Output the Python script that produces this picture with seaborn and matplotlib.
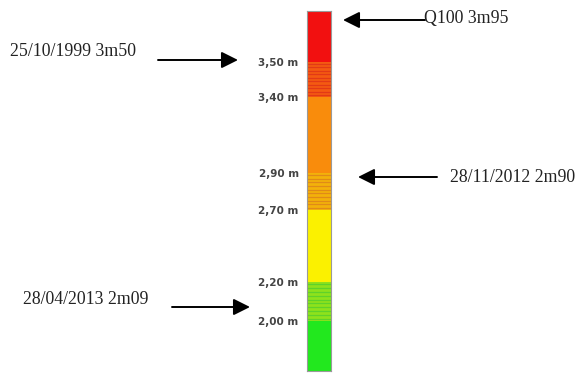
import numpy as np
import matplotlib
matplotlib.use("Agg")
import matplotlib.pyplot as plt
import seaborn as sns

# ---- data (schematic gauge, segments listed from bottom to top) ----
segment_names = ["vert", "vert/jaune", "jaune", "jaune/orange", "orange", "orange/rouge", "rouge"]
segment_heights = [50, 39, 72, 37, 76, 35, 51]
segment_colors = ["#22e81e", "#8ee21c", "#fbf100", "#f3b10a", "#f98c0c", "#f45a12", "#f21010"]
stripe_colors = [None, "#5fd22a", None, "#e08a18", None, "#e23a16", None]
tick_labels = ["2,00 m", "2,20 m", "2,70 m", "2,90 m", "3,40 m", "3,50 m"]

event_labels = ["Q100 3m95", "25/10/1999 3m50", "28/11/2012 2m90", "28/04/2013 2m09"]
event_levels = [351, 311, 194, 64]          # schematic gauge position pointed at
event_side = ["right", "left", "right", "left"]

sns.set_style("white")

W, H = 580, 374
fig = plt.figure(figsize=(W / 100, H / 100), dpi=100)
fig.patch.set_facecolor("white")

bar_left, bar_right, bar_top, bar_bottom = 307, 331, 11, 371
ax = fig.add_axes([bar_left / W, (H - bar_bottom) / H,
                   (bar_right - bar_left) / W, (bar_bottom - bar_top) / H])

bottoms = np.concatenate([[0], np.cumsum(segment_heights)[:-1]])
total = float(np.sum(segment_heights))
ax.bar([0] * len(segment_heights), segment_heights, bottom=bottoms, width=1.0,
       color=segment_colors, linewidth=0)

# stripes in transition segments
for b, h, sc in zip(bottoms, segment_heights, stripe_colors):
    if sc is None:
        continue
    ys = np.linspace(b + 2, b + h - 2, 10)
    ax.hlines(ys, -0.5, 0.5, colors=sc, linewidth=0.9)

ax.set_xlim(-0.5, 0.5)
ax.set_ylim(0, total)
ax.set_xticks([])
bounds = np.cumsum(segment_heights)[:-1]
ax.set_yticks(bounds)
ax.set_yticklabels(tick_labels, fontsize=7.5, fontweight="bold", color="#444444")
ax.tick_params(axis="y", length=0, pad=6)
for s in ax.spines.values():
    s.set_visible(True)
    s.set_color("#9a9a9a")
    s.set_linewidth(0.8)

serif = ["Liberation Serif", "DejaVu Serif"]
tr = ax.get_yaxis_transform()

# annotation layout (figure pixels)
text_pos = [(424, H - 18), (10, H - 52), (450, H - 178), (23, H - 300)]
arrow_tail_x = [425, 158, 437, 172]
arrow_tip_x = [343, 238, 358, 250]

for lab, lvl, side, tp, tx, hx in zip(event_labels, event_levels, event_side,
                                      text_pos, arrow_tail_x, arrow_tip_x):
    fig.text(tp[0] / W, tp[1] / H, lab, ha="left", va="center",
             fontsize=12.8, family=serif, color="#222222")
    tip_frac = (hx - bar_left) / (bar_right - bar_left)
    tip_disp = tr.transform((tip_frac, lvl))
    ax.annotate("", xy=(tip_frac, lvl), xycoords=tr,
                xytext=(tx, tip_disp[1]), textcoords="figure pixels",
                arrowprops=dict(arrowstyle="-|>,head_length=1.0,head_width=0.5",
                                color="black", lw=1.4, shrinkA=0, shrinkB=0),
                annotation_clip=False)

fig.savefig("out.png", dpi=100, facecolor="white")
